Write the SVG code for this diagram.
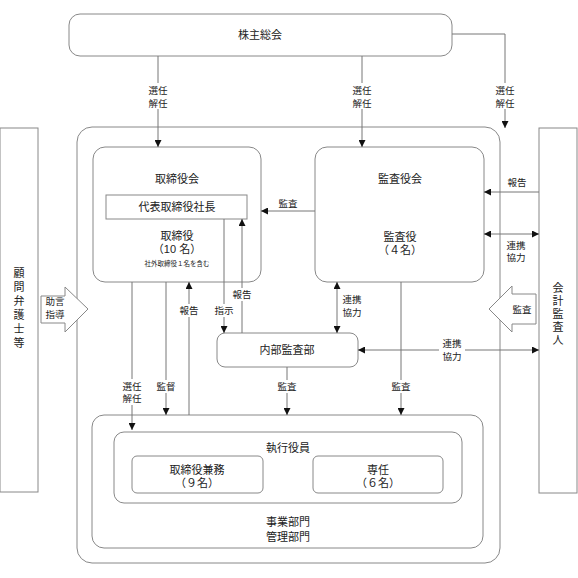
<svg xmlns="http://www.w3.org/2000/svg" width="578" height="578" viewBox="0 0 578 578">
<style>
.box{fill:#fff;stroke:#888;stroke-width:1}
.ln{fill:none;stroke:#777;stroke-width:1}
.hollow{fill:#fff;stroke:#888;stroke-width:1}
text{font-family:"Liberation Sans","Noto Sans CJK JP",sans-serif;fill:#222;text-anchor:middle}
.t{font-size:11px}
.l{font-size:9.5px}
.s{font-size:6.5px}
.bg{fill:#fff}
</style>
<defs>
<marker id="ah" viewBox="0 0 10 10" refX="10" refY="5" markerWidth="7" markerHeight="7" markerUnits="userSpaceOnUse" orient="auto-start-reverse">
<path d="M0,0 L10,5 L0,10 Z" fill="#111"/>
</marker>
</defs>
<rect width="578" height="578" fill="#fff"/>

<g id="outer-frame"><rect class="box" x="77" y="127" width="423" height="436" rx="15"/></g>

<g id="shareholders"><rect class="box" x="69" y="14" width="383" height="42" rx="11"/><text class="t" x="260" y="39">株主総会</text></g>

<g id="legal-advisors"><rect class="box" x="0" y="128" width="38" height="364"/>
<text class="t"><tspan x="19" y="277">顧</tspan><tspan x="19" y="291">問</tspan><tspan x="19" y="305">弁</tspan><tspan x="19" y="319">護</tspan><tspan x="19" y="333">士</tspan><tspan x="19" y="347">等</tspan></text></g>

<g id="accounting-auditor"><rect class="box" x="539" y="128" width="38" height="365"/>
<text class="t"><tspan x="558" y="292">会</tspan><tspan x="558" y="305">計</tspan><tspan x="558" y="318">監</tspan><tspan x="558" y="331">査</tspan><tspan x="558" y="344">人</tspan></text></g>

<g id="board"><rect class="box" x="93" y="147" width="168" height="135" rx="12"/>
<text class="t" x="177" y="183">取締役会</text>
<rect class="box" x="106" y="195" width="141" height="24"/>
<text class="t" x="177" y="211">代表取締役社長</text>
<text class="t" x="177" y="240">取締役</text>
<text class="t" x="177" y="253">（10 名）</text>
<text class="s" x="177" y="266">社外取締役１名を含む</text></g>

<g id="audit-board"><rect class="box" x="315" y="147" width="169" height="135" rx="12"/>
<text class="t" x="400" y="183">監査役会</text>
<text class="t" x="400" y="241">監査役</text>
<text class="t" x="400" y="254">（４名）</text></g>

<g id="internal-audit"><rect class="box" x="217" y="333" width="141" height="34" rx="8"/>
<text class="t" x="287" y="354">内部監査部</text></g>

<g id="divisions"><rect class="box" x="92" y="415" width="391" height="133" rx="12"/>
<text class="t" x="288" y="526">事業部門</text>
<text class="t" x="288" y="541">管理部門</text></g>

<g id="executive-officers"><rect class="box" x="114" y="432" width="348" height="71" rx="10"/>
<text class="t" x="288" y="452">執行役員</text></g>

<g id="concurrent"><rect class="box" x="132" y="456" width="131" height="37" rx="5"/>
<text class="t" x="197" y="474">取締役兼務</text><text class="t" x="197" y="487">（９名）</text></g>

<g id="dedicated"><rect class="box" x="313" y="456" width="130" height="37" rx="5"/>
<text class="t" x="378" y="474">専任</text><text class="t" x="378" y="487">（６名）</text></g>

<g id="connectors">
<path class="ln" d="M158,56 V147" marker-end="url(#ah)"/>
<rect class="bg" x="148" y="83" width="20" height="26"/>
<text class="l" x="158" y="94">選任</text><text class="l" x="158" y="107">解任</text>
<path class="ln" d="M362,56 V147" marker-end="url(#ah)"/>
<rect class="bg" x="352" y="83" width="20" height="26"/>
<text class="l" x="362" y="94">選任</text><text class="l" x="362" y="107">解任</text>
<path class="ln" d="M452,34 H505 V128" marker-end="url(#ah)"/>
<rect class="bg" x="495" y="83" width="20" height="26"/>
<text class="l" x="505" y="94">選任</text><text class="l" x="505" y="107">解任</text>
<path class="ln" d="M315,211 H261" marker-end="url(#ah)"/>
<text class="l" x="288" y="207">監査</text>
<path class="ln" d="M539,192 H484" marker-end="url(#ah)"/>
<text class="l" x="517" y="186">報告</text>
<path class="ln" d="M484,234 H539" marker-start="url(#ah)" marker-end="url(#ah)"/>
<text class="l" x="516" y="249">連携</text><text class="l" x="516" y="261">協力</text>
<path class="ln" d="M132,282 V430" marker-end="url(#ah)"/>
<rect class="bg" x="122" y="379" width="20" height="26"/>
<text class="l" x="132" y="390">選任</text><text class="l" x="132" y="402">解任</text>
<path class="ln" d="M166,282 V415" marker-end="url(#ah)"/>
<rect class="bg" x="156" y="380" width="20" height="13"/>
<text class="l" x="166" y="390">監督</text>
<path class="ln" d="M189,415 V282" marker-end="url(#ah)"/>
<rect class="bg" x="179" y="304" width="20" height="13"/>
<text class="l" x="189" y="314">報告</text>
<path class="ln" d="M224,219 V333" marker-end="url(#ah)"/>
<rect class="bg" x="214" y="304" width="20" height="13"/>
<text class="l" x="224" y="314">指示</text>
<path class="ln" d="M242,333 V219" marker-end="url(#ah)"/>
<rect class="bg" x="232" y="288" width="20" height="13"/>
<text class="l" x="242" y="298">報告</text>
<path class="ln" d="M337,282 V333" marker-start="url(#ah)" marker-end="url(#ah)"/>
<text class="l" x="352" y="303">連携</text><text class="l" x="352" y="316">協力</text>
<path class="ln" d="M401,282 V415" marker-end="url(#ah)"/>
<rect class="bg" x="391" y="380" width="20" height="13"/>
<text class="l" x="401" y="390">監査</text>
<path class="ln" d="M287,367 V415" marker-end="url(#ah)"/>
<rect class="bg" x="277" y="380" width="20" height="13"/>
<text class="l" x="287" y="390">監査</text>
<path class="ln" d="M358,350 H539" marker-start="url(#ah)" marker-end="url(#ah)"/>
<rect class="bg" x="439" y="339" width="26" height="24"/>
<text class="l" x="452" y="347">連携</text><text class="l" x="452" y="360">協力</text>
<path class="hollow" d="M41,296 H65 V287 L88,309 L65,332 V323 H41 Z"/>
<text class="l" x="55" y="305">助言</text><text class="l" x="55" y="318">指導</text>
<path class="hollow" d="M536,294 H512 V286 L489,309 L512,332 V324 H536 Z"/>
<text class="l" x="522" y="313">監査</text>
</g>
</svg>
